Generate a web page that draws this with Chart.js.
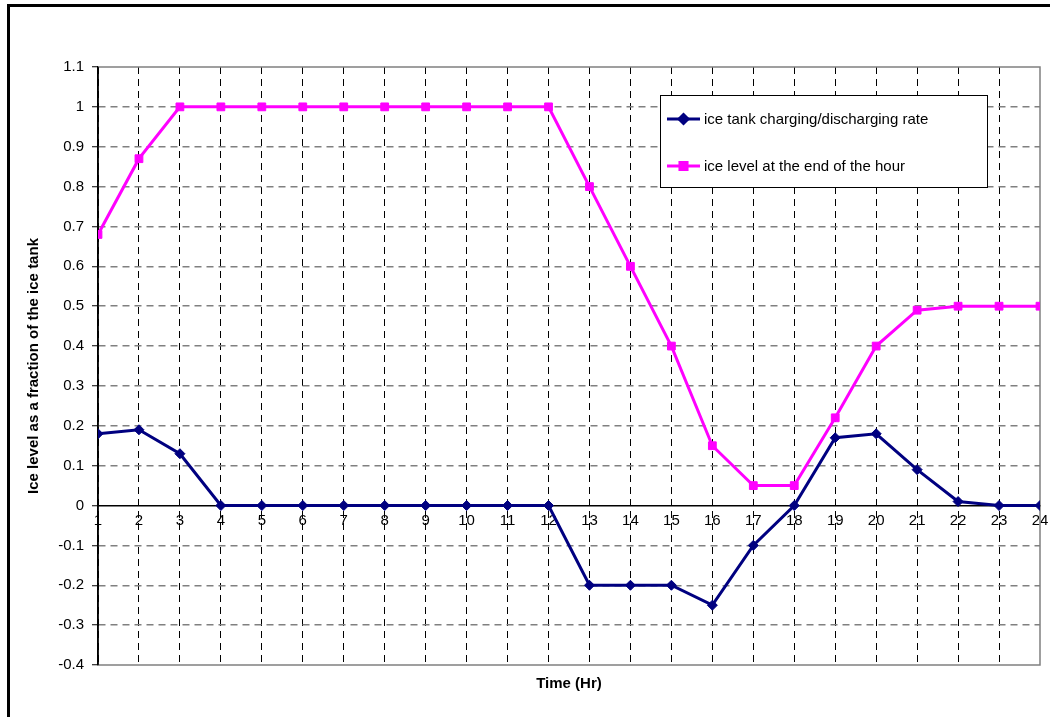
<!DOCTYPE html>
<html>
<head>
<meta charset="utf-8">
<script src="https://cdn.jsdelivr.net/npm/chart.js@4.4.1/dist/chart.umd.min.js"></script>
<style>
  html, body { margin: 0; padding: 0; background: #fff; }
  canvas { display: block; }
</style>
</head>
<body>
<canvas id="chart" width="1050" height="717"></canvas>
<script>
// data
const hours = [1, 2, 3, 4, 5, 6, 7, 8, 9, 10, 11, 12, 13, 14, 15, 16, 17, 18, 19, 20, 21, 22, 23, 24];
const chargeRate = [0.18, 0.19, 0.13, 0, 0, 0, 0, 0, 0, 0, 0, 0, -0.2, -0.2, -0.2, -0.25, -0.1, 0, 0.17, 0.18, 0.09, 0.01, 0, 0];
const iceLevel = [0.68, 0.87, 1, 1, 1, 1, 1, 1, 1, 1, 1, 1, 0.8, 0.6, 0.4, 0.15, 0.05, 0.05, 0.22, 0.4, 0.49, 0.5, 0.5, 0.5];
const seriesNames = ['ice tank charging/discharging rate', 'ice level at the end of the hour'];
const yMin = -0.4;
const yMax = 1.1;
const yStep = 0.1;

const FONT = '"Liberation Sans", Arial, sans-serif';
const NAVY = '#000080';
const PINK = '#ff00ff';
const GRAY = '#808080';

function toPoints(values) {
  return hours.map((h, i) => ({ x: h, y: values[i] }));
}

// white background + the thick frame round the picture
const framePlugin = {
  id: 'frame',
  beforeDraw(chart) {
    const ctx = chart.ctx;
    ctx.save();
    ctx.fillStyle = '#fff';
    ctx.fillRect(0, 0, chart.width, chart.height);
    ctx.strokeStyle = '#000';
    ctx.lineWidth = 3;
    ctx.beginPath();
    ctx.moveTo(8.5, chart.height);
    ctx.lineTo(8.5, 5.5);
    ctx.lineTo(chart.width, 5.5);
    ctx.stroke();
    ctx.restore();
  }
};

// solid gray border on top, right and bottom of the plot area
const plotBorderPlugin = {
  id: 'plotBorder',
  beforeDatasetsDraw(chart) {
    const { ctx, chartArea: a } = chart;
    ctx.save();
    ctx.strokeStyle = GRAY;
    ctx.lineWidth = 1.5;
    ctx.beginPath();
    ctx.moveTo(a.left, a.top);
    ctx.lineTo(a.right, a.top);
    ctx.lineTo(a.right, a.bottom);
    ctx.lineTo(a.left, a.bottom);
    ctx.stroke();
    // left axis stays solid black
    ctx.strokeStyle = '#000';
    ctx.beginPath();
    ctx.moveTo(a.left, a.top);
    ctx.lineTo(a.left, a.bottom);
    ctx.stroke();
    ctx.restore();
  }
};

// boxed legend inside the plot, like the original
const legendBoxPlugin = {
  id: 'legendBox',
  afterDraw(chart) {
    const ctx = chart.ctx;
    const box = { x: 660.5, y: 95.5, w: 327, h: 92 };
    ctx.save();
    ctx.fillStyle = '#fff';
    ctx.fillRect(box.x, box.y, box.w, box.h);
    ctx.strokeStyle = '#000';
    ctx.lineWidth = 1;
    ctx.strokeRect(box.x, box.y, box.w, box.h);

    const rows = [119, 166];
    chart.data.datasets.forEach((ds, i) => {
      const y = rows[i];
      ctx.strokeStyle = ds.borderColor;
      ctx.lineWidth = 3;
      ctx.beginPath();
      ctx.moveTo(667, y);
      ctx.lineTo(700, y);
      ctx.stroke();
      Chart.helpers.drawPoint(ctx, {
        pointStyle: ds.pointStyle,
        radius: ds.pointRadius - 0.5,
        rotation: 0,
        borderWidth: 1
      }, 683.5, y);
      ctx.fillStyle = ds.borderColor;
      ctx.fill();
      ctx.fillStyle = '#000';
      ctx.font = '15px ' + FONT;
      ctx.textBaseline = 'middle';
      ctx.textAlign = 'left';
      ctx.fillText(seriesNames[i], 704, y + 1);
    });
    ctx.restore();
  }
};

const ctx = document.getElementById('chart').getContext('2d');
new Chart(ctx, {
  type: 'line',
  data: {
    datasets: [
      {
        label: seriesNames[0],
        data: toPoints(chargeRate),
        borderColor: NAVY,
        backgroundColor: NAVY,
        borderWidth: 3,
        pointStyle: 'rectRot',
        pointRadius: 5,
        pointBorderWidth: 1,
        tension: 0
      },
      {
        label: seriesNames[1],
        data: toPoints(iceLevel),
        borderColor: PINK,
        backgroundColor: PINK,
        borderWidth: 3,
        pointStyle: 'rect',
        pointRadius: 5.5,
        pointBorderWidth: 1,
        tension: 0
      }
    ]
  },
  options: {
    responsive: false,
    animation: false,
    devicePixelRatio: 1,
    layout: { padding: { top: 67, right: 10, left: 0, bottom: 0 } },
    plugins: {
      legend: { display: false },
      tooltip: { enabled: false }
    },
    scales: {
      x: {
        type: 'linear',
        position: { y: 0 },
        min: hours[0],
        max: hours[hours.length - 1],
        ticks: {
          stepSize: 1,
          autoSkip: false,
          maxRotation: 0,
          color: '#000',
          padding: 6,
          font: { family: FONT, size: 15 }
        },
        grid: {
          drawTicks: false,
          color: (c) => (c.index === hours.length - 1 ? 'rgba(0,0,0,0)' : '#000'),
          lineWidth: 1
        },
        border: { display: true, color: '#000', width: 1.5, dash: [7, 5] },
        afterFit(scale) { scale.paddingLeft = 0; scale.paddingRight = 0; }
      },
      xTitle: {
        type: 'linear',
        position: 'bottom',
        min: 0,
        max: 1,
        ticks: { display: false },
        grid: { display: false, drawTicks: false },
        border: { display: false },
        title: {
          display: true,
          text: 'Time (Hr)',
          color: '#000',
          font: { family: FONT, size: 15, weight: 'bold' },
          padding: { top: 0, bottom: 24 }
        },
        afterFit(scale) { scale.height = 52; scale.paddingLeft = 0; scale.paddingRight = 0; }
      },
      y: {
        type: 'linear',
        position: 'left',
        min: yMin,
        max: yMax,
        ticks: {
          stepSize: yStep,
          color: '#000',
          padding: 8,
          font: { family: FONT, size: 15 },
          callback: (v) => String(Math.round(v * 10) / 10)
        },
        grid: {
          color: (c) => {
            const v = Math.round(c.tick.value * 10) / 10;
            return (v === yMin || v === yMax || v === 0) ? 'rgba(0,0,0,0)' : GRAY;
          },
          lineWidth: 1.5,
          tickColor: '#000',
          tickLength: 6,
          tickWidth: 1
        },
        border: { display: true, color: '#000', width: 1.5, dash: [7, 5] },
        title: {
          display: true,
          text: 'Ice level as a fraction of the ice tank',
          color: '#000',
          font: { family: FONT, size: 15, weight: 'bold' },
          padding: { top: 25, bottom: 0 }
        },
        afterFit(scale) { scale.width = 98; }
      }
    }
  },
  plugins: [framePlugin, plotBorderPlugin, legendBoxPlugin]
});
</script>
</body>
</html>
